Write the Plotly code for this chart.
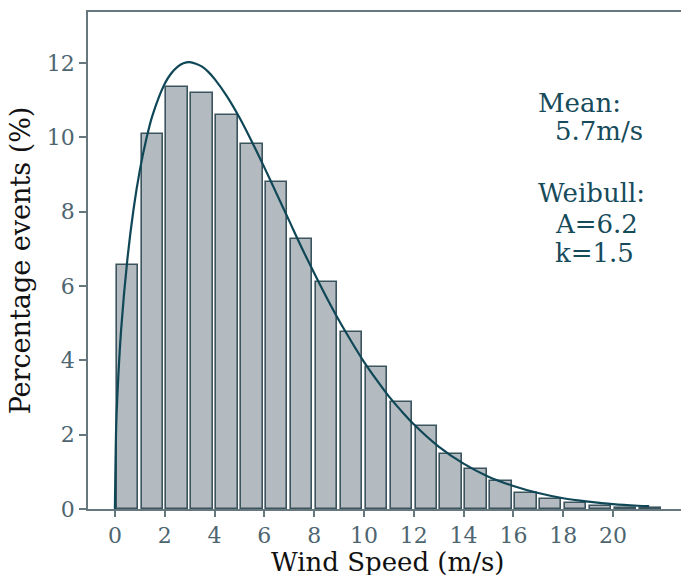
import plotly.graph_objects as go

# Histogram bins (m/s) and percentages
bin_centers = [0.5, 1.5, 2.5, 3.5, 4.5, 5.5, 6.5, 7.5, 8.5, 9.5, 10.5,
               11.5, 12.5, 13.5, 14.5, 15.5, 16.5, 17.5, 18.5, 19.5, 20.5, 21.5]
percent_events = [6.56, 10.10, 11.36, 11.18, 10.60, 9.81, 8.79, 7.26, 6.10, 4.75, 3.83,
                  2.89, 2.23, 1.48, 1.07, 0.76, 0.42, 0.28, 0.16, 0.09, 0.04, 0.02]

# Fitted curve
curve_x = [0.0, 0.05, 0.1, 0.25, 0.5, 0.75, 1.0, 1.25, 1.5, 2.0, 2.25, 2.5, 2.75, 3.0,
           3.25, 3.5, 3.75, 4.0, 4.5, 5.0, 5.5, 6.0,
           6.5, 7.0, 7.5, 8.0, 8.5, 9.0, 9.5, 10.0, 10.5, 11.0, 11.5, 12.0, 13.0, 14.0,
           15.0, 16.0, 17.0, 18.0, 19.0, 20.0, 21.0, 21.45]
curve_y = [0.0, 2.17, 3.07, 4.82, 6.71, 8.07, 9.11, 9.92, 10.57, 11.44, 11.71, 11.89, 11.99,
           12.02, 11.98, 11.90, 11.76, 11.57, 11.10,
           10.53, 9.88, 9.19, 8.47, 7.75, 7.03, 6.35, 5.69, 5.07, 4.50, 3.96, 3.48, 3.03,
           2.64, 2.28, 1.68, 1.22, 0.87, 0.62, 0.43, 0.29, 0.20, 0.13, 0.087, 0.075]

x_ticks = [0, 2, 4, 6, 8, 10, 12, 14, 16, 18, 20]
y_ticks = [0, 2, 4, 6, 8, 10, 12]

FONT = "DejaVu Serif"
TICK_COLOR = "#4d6570"
SPINE_COLOR = "#66777e"
TEXT_COLOR = "#164b5b"

fig = go.Figure()
fig.add_trace(go.Bar(
    x=bin_centers, y=percent_events, width=0.86,
    marker=dict(color="#b3bac0", line=dict(color="#3b545d", width=1.6)),
    showlegend=False, hoverinfo="skip",
))
fig.add_trace(go.Scatter(
    x=curve_x, y=curve_y, mode="lines",
    line=dict(color="#0f4757", width=2.2, shape="spline", smoothing=0.8),
    showlegend=False, hoverinfo="skip",
))

ann_lines = [
    ("Mean:", 0.755, 0.817),
    ("5.7m/s", 0.784, 0.761),
    ("Weibull:", 0.755, 0.636),
    ("A=6.2", 0.784, 0.573),
    ("k=1.5", 0.784, 0.515),
]
annotations = [
    dict(text=t, x=x, y=y, xref="paper", yref="paper", xanchor="left", yanchor="middle",
         showarrow=False, font=dict(family=FONT, size=26, color=TEXT_COLOR))
    for t, x, y in ann_lines
]
# x-axis title placed as an annotation for precise positioning
annotations.append(dict(
    text="Wind Speed (m/s)", x=0.505, y=-0.106, xref="paper", yref="paper",
    xanchor="center", yanchor="middle", showarrow=False,
    font=dict(family=FONT, size=26, color="#111111"),
))

fig.update_layout(
    width=681, height=575,
    margin=dict(l=88, r=0, t=12, b=66),
    paper_bgcolor="white", plot_bgcolor="white",
    font=dict(family=FONT),
    bargap=0,
    annotations=annotations,
    xaxis=dict(
        range=[-1.08, 22.73], tickvals=x_ticks, ticktext=[str(v) for v in x_ticks],
        showgrid=False, zeroline=False, showline=True, linecolor=SPINE_COLOR, linewidth=1.5,
        mirror=True, ticks="outside", ticklen=6, tickwidth=1.5, tickcolor=SPINE_COLOR,
        tickfont=dict(family=FONT, size=22, color=TICK_COLOR),
    ),
    yaxis=dict(
        range=[0, 13.37], tickvals=y_ticks, ticktext=[str(v) for v in y_ticks],
        showgrid=False, zeroline=False, showline=True, linecolor=SPINE_COLOR, linewidth=1.5,
        ticks="outside", ticklen=7, tickwidth=1.5, tickcolor=SPINE_COLOR,
        tickfont=dict(family=FONT, size=22, color=TICK_COLOR),
        title=dict(text="Percentage events (%)", standoff=8,
                   font=dict(family=FONT, size=27, color="#111111")),
    ),
)

fig.write_html("out.html")
